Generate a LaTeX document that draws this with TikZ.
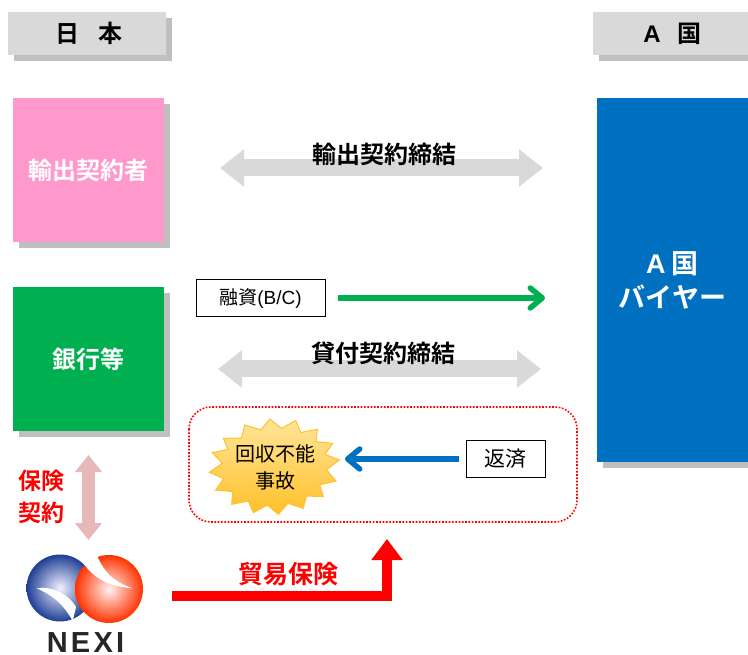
\documentclass[tikz,border=0pt]{standalone}
\usepackage{fontspec}
\setmainfont{Noto Sans CJK JP}[BoldFont={Noto Sans CJK JP Bold}]
\newfontfamily\latinf{Liberation Sans}
\newfontfamily\logof[LetterSpace=11]{Liberation Sans Bold}
\usetikzlibrary{arrows.meta,calc}
\definecolor{hdr}{HTML}{D9D9D9}
\definecolor{shd}{HTML}{BFBFBF}
\definecolor{pinkb}{HTML}{FF99CC}
\definecolor{greenb}{HTML}{00B050}
\definecolor{blueb}{HTML}{0070C0}
\definecolor{insur}{HTML}{E6B8B7}
\definecolor{burstA}{HTML}{FFE699}
\definecolor{burstB}{HTML}{FFC02A}
\definecolor{logoB}{HTML}{1F3F95}
\definecolor{logoR}{HTML}{FF3300}
\tikzset{
 x=1pt,y=-1pt,
 plain/.style={inner sep=0pt,outer sep=0pt},
 hdrbox/.style={plain,fill=hdr,font=\bfseries\fontsize{24}{24}\selectfont},
 party/.style={plain,font=\bfseries\fontsize{24}{29}\selectfont,text=white,align=center},
 framebox/.style={plain,draw=black,line width=1pt,fill=white,font=\fontsize{20}{24}\selectfont},
 greyarrow/.style={draw=hdr,line width=17pt,{Triangle[width=36pt,length=24pt]}-{Triangle[width=36pt,length=24pt]}},
 boldlabel/.style={plain,font=\bfseries\fontsize{24}{24}\selectfont},
 redlabel/.style={plain,text=red,font=\bfseries\fontsize{23}{32}\selectfont,align=center},
 barbarrow/.style={line width=#1,line cap=butt,-{Straight Barb[length=12pt,width=20pt,line width=5.5pt,round]}},
}
\newcommand{\shadowrect}[4]{\fill[shd] ({#1+6},{#2+6}) rectangle ({#3+6},{#4+6});}
\begin{document}
\begin{tikzpicture}
\useasboundingbox (0,0) rectangle (748,655);
% headers
\shadowrect{8}{12}{166}{55}
\node[hdrbox,minimum width=158pt,minimum height=43pt] (jp) at (87,33.5) {\hspace{4pt}日\hspace{19pt}本};
\shadowrect{593}{12}{748}{55}
\node[hdrbox,minimum width=155pt,minimum height=43pt] (ac) at (670.5,33.5) {\hspace{4pt}{\latinf\bfseries A}\hspace{17pt}国};
% parties
\shadowrect{13}{98}{164}{242}
\node[party,fill=pinkb,minimum width=151pt,minimum height=144pt] (exp) at (88.5,170) {輸出契約者};
\shadowrect{13}{287}{164}{431}
\node[party,fill=greenb,minimum width=151pt,minimum height=144pt] (bank) at (88.5,359) {銀行等};
\shadowrect{597}{98}{748}{462}
\node[party,fill=blueb,minimum width=151pt,minimum height=364pt,font=\bfseries\fontsize{27}{36}\selectfont] (buyer) at (672.5,280) {{\latinf\bfseries A} 国\\[-2pt]バイヤー};
% grey arrows
\coordinate (a1) at (220,168); \coordinate (a2) at (543,168);
\draw[greyarrow] (a1) -- (a2);
\node[boldlabel] (l1) at (384.5,154) {輸出契約締結};
\coordinate (b1) at (218,369); \coordinate (b2) at (541,369);
\draw[greyarrow] (b1) -- (b2);
\node[boldlabel] (l2) at (383,353) {貸付契約締結};
% loan
\node[framebox,minimum width=129pt,minimum height=37pt,font=\fontsize{19}{24}\selectfont] (loan) at (260.5,298.5) {融資{\latinf(B/C)}};
\coordinate (g1) at (338,298); \coordinate (g2) at (545,298);
\draw[greenb,barbarrow=6pt] (g1) -- (g2);
% dotted frame
\draw[red,line width=1.6pt,dash pattern=on 1.7pt off 1.6pt,rounded corners=22pt] (189,407) rectangle (577,522);
% burst
\begin{scope}[shift={(180,400)},x=0.33333pt,y=-0.33333pt]
\path[draw=burstB,line width=1pt,top color=burstA,bottom color=burstB]
 (270,57)--(304,85)--(347,62)--(362,97.5)--(412,88)--(408,125)--(458,130)--(435,163)--(478,180)--(439,209)--(468,243)--(419,254.5)--(430,290)--(379,288)--(370,325)--(324,310)--(295,343)--(262,315)--(220,338)--(205,303)--(155,313)--(158,275)--(107,270)--(131,236)--(88,217)--(127,190)--(97,158)--(144,148)--(130,115)--(184,114)--(195,75)--(242,90)--cycle;
\end{scope}
\node[plain,align=center,font=\fontsize{20}{27}\selectfont] (acc) at (275,467) {回収不能\\事故};
% repay
\node[framebox,minimum width=79pt,minimum height=37pt,font=\fontsize{21}{24}\selectfont] (rep) at (505.5,459) {返済};
\coordinate (r1) at (459,459); \coordinate (r2) at (345,459);
\draw[blueb,barbarrow=6.5pt] (r1) -- (r2);
% insurance
\coordinate (i1) at (88.5,455); \coordinate (i2) at (88.5,540);
\draw[insur,line width=13pt,{Triangle[width=26pt,length=17pt]}-{Triangle[width=26pt,length=17pt]}] (i1) -- (i2);
\node[redlabel] (ins) at (41.5,497) {保険\\契約};
% NEXI logo
\shade[inner color=blue!5,outer color=logoB] (60,588) circle (33.5);
\fill[white] (36.7,588.3) .. controls (50,586) and (67,592) .. (76,607) -- (72.7,621) .. controls (65,607) and (55,596) .. (36.7,588.3) -- cycle;
\shade[inner color=red!5!white,outer color=logoR] (109,589) circle (34);
\fill[white] (133.3,588.3) .. controls (118,584) and (105,575) .. (96.7,555) -- (84,564) .. controls (95,580) and (112,587) .. (133.3,588.3) -- cycle;
\node[plain,text=black!85,font=\logof\fontsize{29}{29}\selectfont] (nexi) at (85.5,643) {NEXI};
% trade insurance arrow
\coordinate (t1) at (172,596); \coordinate (t2) at (387,539);
\draw[red,line width=10pt,-{Triangle[width=30pt,length=21pt]}] (t1) -| (t2);
\node[plain,text=red,font=\bfseries\fontsize{25}{25}\selectfont] (ti) at (288,574) {貿易保険};
\end{tikzpicture}
\end{document}
